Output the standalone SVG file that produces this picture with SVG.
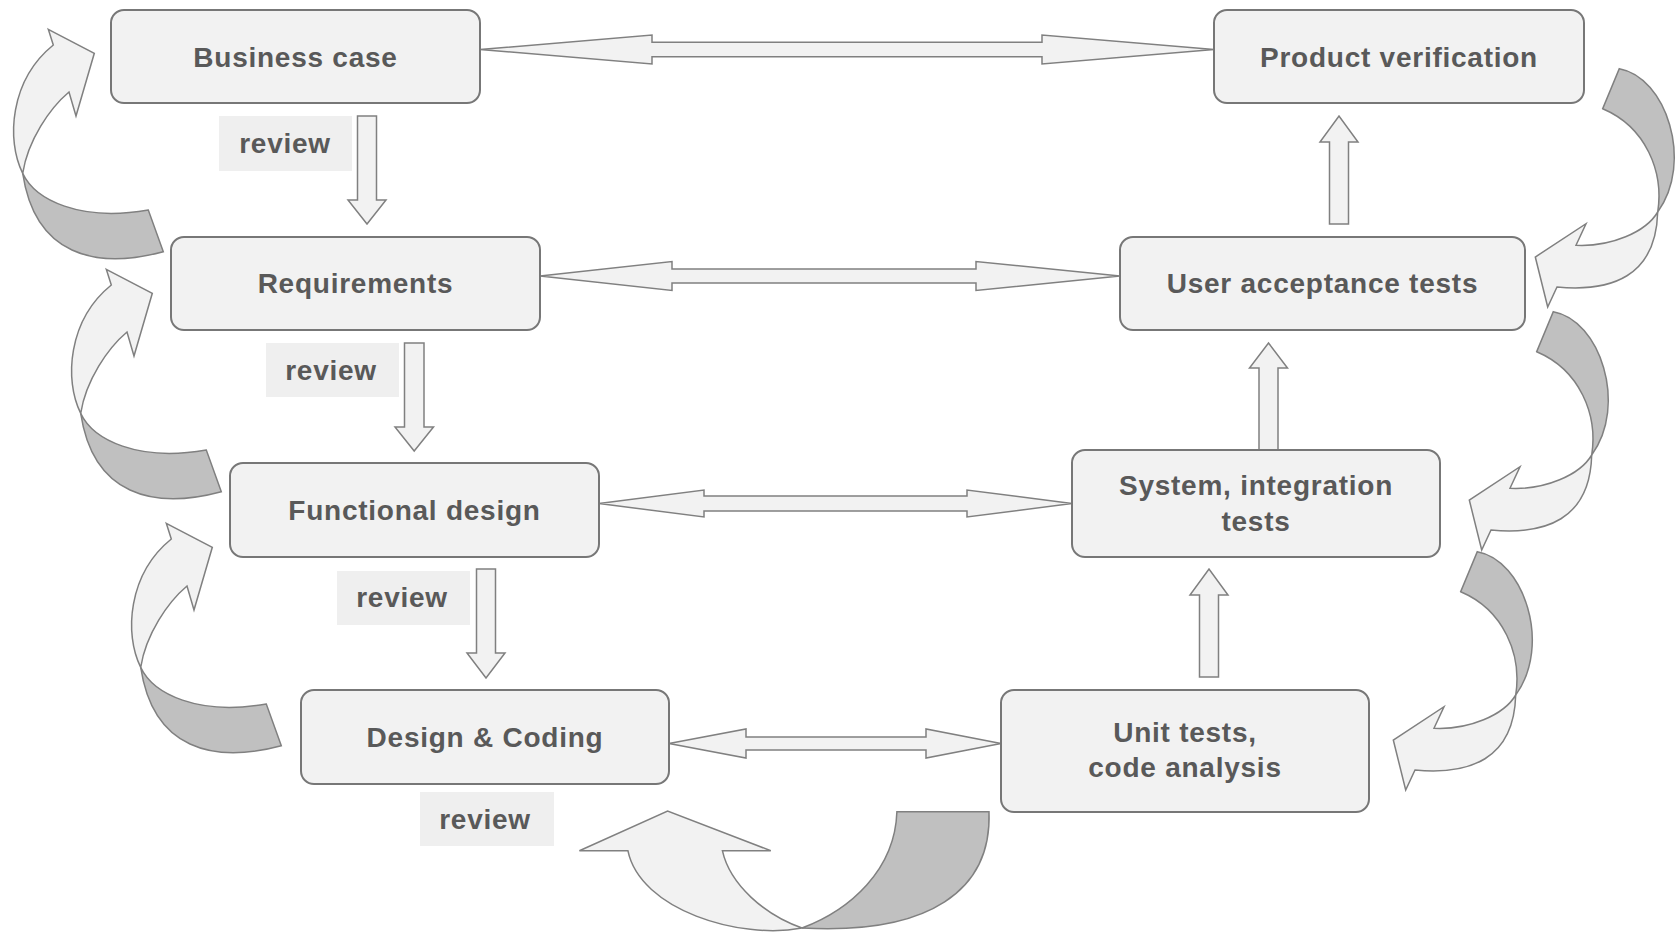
<svg xmlns="http://www.w3.org/2000/svg" xmlns:xlink="http://www.w3.org/1999/xlink" width="1680" height="934" viewBox="0 0 1680 934">
<style>
.box{fill:#f2f2f2;stroke:#777;stroke-width:2}
.lbl{font-family:"Liberation Sans",Arial,sans-serif;font-weight:bold;font-size:28px;fill:#595959;letter-spacing:0.75px;text-anchor:middle}
.rv{fill:#efefef}
.blk{fill:#f2f2f2;stroke:#808080;stroke-width:1.5}
.front{fill:#f2f2f2;stroke:#808080;stroke-width:1.5;stroke-linejoin:miter}
.back{fill:#c0c0c0;stroke:#808080;stroke-width:1.5}
</style>
<defs>
<g id="curlLeft">
<path class="front" d="M48.3,29.3 L94.3,53.3 L76,116 L69,92 C50,108 28,140 22.7,173.3 C6,140 10,80 53.3,45 Z"/>
<path class="back" d="M22.7,173.3 C35,200 80,222 148.3,210 L163.3,251.7 C95,270 35,255 22.7,173.3 Z"/>
</g>
<g id="curlRight">
<path class="back" d="M1553.3,311.7 C1600,320 1628,405 1591.7,455 C1598,415 1580,370 1536.7,351.7 Z"/>
<path class="front" d="M1591.7,455 C1580,475 1545,490 1510,488.3 L1520,466.7 L1469.3,500 L1481.7,550 L1491,530 C1545,535 1590,520 1591.7,455 Z"/>
</g>
</defs>
<rect width="1680" height="934" fill="#ffffff"/>

<g id="connectors">
<!-- review arrows (down) -->
<polygon class="blk" points="357.5,116 376.5,116 376.5,200 386,200 367,224 348,200 357.5,200"/>
<polygon class="blk" points="404.5,343 424,343 424,427 433.5,427 414.2,451 395,427 404.5,427"/>
<polygon class="blk" points="476.5,569 495.5,569 495.5,653 505,653 486,678 467,653 476.5,653"/>
<!-- verification arrows (up) -->
<polygon class="blk" points="1329.5,224 1348.5,224 1348.5,142 1358,142 1339,116 1320,142 1329.5,142"/>
<polygon class="blk" points="1259,450 1278,450 1278,368 1287.5,368 1268.5,343 1249.5,368 1259,368"/>
<polygon class="blk" points="1199.5,677 1218.5,677 1218.5,595 1228,595 1209,569 1190,595 1199.5,595"/>
<!-- horizontal double arrows -->
<polygon class="blk" points="480,49.5 652,35 652,42.3 1042,42.3 1042,35 1214,49.5 1042,64 1042,56.7 652,56.7 652,64"/>
<polygon class="blk" points="540,276 672,261.5 672,269 976,269 976,261.5 1120,276 976,290.5 976,283 672,283 672,290.5"/>
<polygon class="blk" points="599,503.5 704,490 704,496 967,496 967,490 1072,503.5 967,517 967,511 704,511 704,517"/>
<polygon class="blk" points="669,743.5 746,729 746,737 926,737 926,729 1001,743.5 926,758 926,750 746,750 746,758"/>
<!-- curved feedback arrows, left side -->
<use xlink:href="#curlLeft" href="#curlLeft"/>
<use xlink:href="#curlLeft" href="#curlLeft" transform="translate(58,240)"/>
<use xlink:href="#curlLeft" href="#curlLeft" transform="translate(118,494)"/>
<!-- curved arrows, right side -->
<use xlink:href="#curlRight" href="#curlRight" transform="translate(66,-243)"/>
<use xlink:href="#curlRight" href="#curlRight"/>
<use xlink:href="#curlRight" href="#curlRight" transform="translate(-76,240)"/>
<!-- bottom U-turn arrow -->
<path class="back" d="M896.9,811.7 L989,811.7 C992,890 930,935 802,928 C850,910 895,870 896.9,811.7 Z"/>
<path class="front" d="M627.9,850.7 L579.4,850.7 L667.6,811 L770.8,850.7 L722.4,850.7 C730,885 765,915 802,928 C740,940 640,910 627.9,850.7 Z"/>
</g>

<g id="review-labels">
<g id="review-1"><rect class="rv" x="219" y="116" width="133" height="55"/><text class="lbl" x="285" y="153">review</text></g>
<g id="review-2"><rect class="rv" x="266" y="343" width="133" height="54"/><text class="lbl" x="331" y="380">review</text></g>
<g id="review-3"><rect class="rv" x="337" y="571" width="133" height="54"/><text class="lbl" x="402" y="607">review</text></g>
<g id="review-4"><rect class="rv" x="420" y="792" width="134" height="54"/><text class="lbl" x="485" y="829">review</text></g>
</g>

<g id="node-business-case"><rect class="box" x="111" y="10" width="369" height="93" rx="13"/><text class="lbl" x="295.5" y="67">Business case</text></g>
<g id="node-product-verification"><rect class="box" x="1214" y="10" width="370" height="93" rx="13"/><text class="lbl" x="1399" y="67">Product verification</text></g>
<g id="node-requirements"><rect class="box" x="171" y="237" width="369" height="93" rx="13"/><text class="lbl" x="355.5" y="293">Requirements</text></g>
<g id="node-user-acceptance-tests"><rect class="box" x="1120" y="237" width="405" height="93" rx="13"/><text class="lbl" x="1322.5" y="293">User acceptance tests</text></g>
<g id="node-functional-design"><rect class="box" x="230" y="463" width="369" height="94" rx="13"/><text class="lbl" x="414.5" y="520">Functional design</text></g>
<g id="node-system-integration-tests"><rect class="box" x="1072" y="450" width="368" height="107" rx="13"/><text class="lbl" x="1256" y="495">System, integration</text><text class="lbl" x="1256" y="531">tests</text></g>
<g id="node-design-coding"><rect class="box" x="301" y="690" width="368" height="94" rx="13"/><text class="lbl" x="485" y="747">Design &amp; Coding</text></g>
<g id="node-unit-tests"><rect class="box" x="1001" y="690" width="368" height="122" rx="13"/><text class="lbl" x="1185" y="742">Unit tests,</text><text class="lbl" x="1185" y="777">code analysis</text></g>
</svg>
